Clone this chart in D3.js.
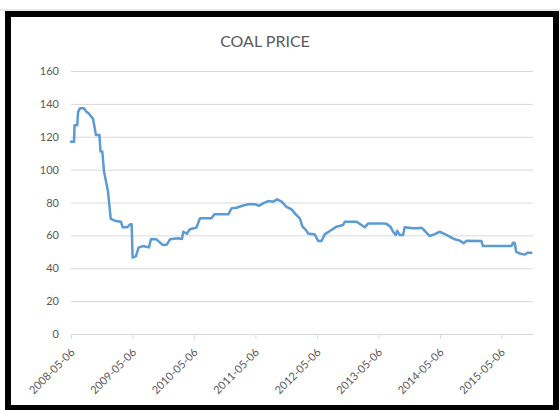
<!DOCTYPE html>
<html>
<head>
<meta charset="utf-8">
<script src="https://cdn.jsdelivr.net/npm/d3@7"></script>
<style>
  html, body { margin: 0; padding: 0; background: #fff; }
  svg { display: block; }
</style>
</head>
<body>
<svg id="chart" width="560" height="410"></svg>
<script>
const chartTitle = "COAL PRICE";
const xTickLabels = ["2008-05-06","2009-05-06","2010-05-06","2011-05-06","2012-05-06","2013-05-06","2014-05-06","2015-05-06"];
const yTicks = [0,20,40,60,80,100,120,140,160];
const dates = [
"2008-05-06","2008-05-24","2008-05-27","2008-06-12","2008-06-17","2008-06-28","2008-07-22","2008-08-03","2008-08-21","2008-09-14",
"2008-10-01","2008-10-22","2008-10-28","2008-11-08","2008-11-18","2008-12-12","2008-12-28","2009-01-28","2009-02-27","2009-03-08",
"2009-04-06","2009-04-24","2009-05-01","2009-05-07","2009-05-27","2009-06-11","2009-07-07","2009-08-12","2009-08-24","2009-09-25",
"2009-11-03","2009-11-27","2009-12-15","2010-01-31","2010-02-24","2010-03-04","2010-03-25","2010-04-12","2010-05-21","2010-06-11",
"2010-08-18","2010-09-05","2010-11-26","2010-12-16","2011-01-14","2011-02-13","2011-03-24","2011-05-03","2011-05-29","2011-06-21",
"2011-07-21","2011-08-20","2011-09-12","2011-10-09","2011-11-07","2011-12-07","2012-01-01","2012-01-25","2012-02-10","2012-03-01",
"2012-03-14","2012-04-23","2012-05-13","2012-06-02","2012-06-21","2012-07-21","2012-08-30","2012-10-08","2012-10-18","2012-12-27",
"2013-01-25","2013-02-14","2013-03-06","2013-05-14","2013-06-23","2013-07-16","2013-08-01","2013-08-17","2013-08-25","2013-09-10",
"2013-09-29","2013-10-09","2013-11-28","2013-12-27","2014-01-16","2014-02-05","2014-03-07","2014-04-05","2014-05-05","2014-06-04",
"2014-07-03","2014-08-02","2014-09-01","2014-09-24","2014-10-10","2015-01-07","2015-01-17","2015-07-05","2015-07-14","2015-07-24",
"2015-08-02","2015-08-23","2015-09-21","2015-10-11","2015-10-31"
];
const prices = [
117,117,127,127,135,137.3,137.3,135.5,134,131,
121,121,111,111,99,86.5,70,68.7,68.3,65,
65,66.8,66.8,46.5,47.4,52.5,53.5,52.7,57.6,57.6,
54.1,54.5,57.6,58.2,57.8,62.2,61,63.7,64.7,70.4,
70.4,72.8,72.8,76.5,76.8,77.9,78.9,78.9,78,79.5,
80.9,80.5,81.9,80.5,77.4,75.8,72.8,70.4,65.3,63.3,
61.2,60.6,56.6,56.6,60.6,62.7,65.3,66.3,68.3,68.3,
66.3,64.9,67.3,67.3,67,65.3,62.2,60.2,62.8,60.2,
60.2,64.9,64.3,64.3,64.7,62.8,59.6,60.8,62.2,60.8,
59.2,57.6,56.8,55.2,56.7,56.6,53.5,53.5,55.5,55.5,
50,49,48.3,49.5,49.5
];

const parse = d3.utcParse("%Y-%m-%d");
const data = dates.map((d, i) => ({ date: parse(d), value: prices[i] }));

const svg = d3.select("#chart");
const W = 560, H = 410;
const plot = { left: 71, right: 533, top: 71, bottom: 334 };
const font = "Lato, 'Open Sans', sans-serif";
const textColor = "#595959";
const gridColor = "#d9d9d9";

svg.append("rect").attr("width", W).attr("height", H).attr("fill", "#fff");
svg.append("line").attr("x1", 0).attr("x2", W).attr("y1", 10).attr("y2", 10)
  .attr("stroke", "#d0d0d0").attr("stroke-width", 1);
svg.append("rect").attr("x", 8).attr("y", 14).attr("width", 548).attr("height", 394)
  .attr("fill", "none").attr("stroke", "#000").attr("stroke-width", 6);

const x = d3.scaleUtc()
  .domain([parse("2008-05-06"), parse("2015-11-10")])
  .range([plot.left, plot.right]);
const y = d3.scaleLinear().domain([0, 160]).range([plot.bottom, plot.top]);

// gridlines + y labels
const yAxis = svg.append("g")
  .attr("transform", `translate(${plot.left},0)`)
  .call(d3.axisLeft(y).tickValues(yTicks).tickSize(-(plot.right - plot.left)).tickPadding(12).tickFormat(d3.format("d")));
yAxis.select(".domain").remove();
yAxis.selectAll(".tick line").attr("stroke", gridColor).attr("stroke-width", 1)
  .filter(d => d === 0).remove();
yAxis.selectAll(".tick text").attr("fill", textColor).attr("font-family", font).attr("font-size", 11);

// x axis
const xAxis = svg.append("g")
  .attr("transform", `translate(0,${plot.bottom})`)
  .call(d3.axisBottom(x).tickValues(xTickLabels.map(parse)).tickSize(5).tickSizeOuter(0)
    .tickFormat(d3.utcFormat("%Y-%m-%d")));
xAxis.select(".domain").attr("stroke", gridColor);
xAxis.selectAll(".tick line").attr("stroke", gridColor);
xAxis.selectAll(".tick text")
  .attr("fill", textColor).attr("font-family", font).attr("font-size", 11)
  .attr("y", 0).attr("dy", 0)
  .attr("text-anchor", "end")
  .attr("transform", "translate(4,19) rotate(-45)");

// line
const line = d3.line().x(d => x(d.date)).y(d => y(d.value));
svg.append("path").datum(data)
  .attr("d", line)
  .attr("fill", "none")
  .attr("stroke", "#5b9bd5")
  .attr("stroke-width", 2.5)
  .attr("stroke-linejoin", "round")
  .attr("stroke-linecap", "round");

// title
svg.append("text").attr("x", 265).attr("y", 47)
  .attr("text-anchor", "middle")
  .attr("fill", textColor).attr("font-family", font).attr("font-size", 16)
  .text(chartTitle);
</script>
</body>
</html>
